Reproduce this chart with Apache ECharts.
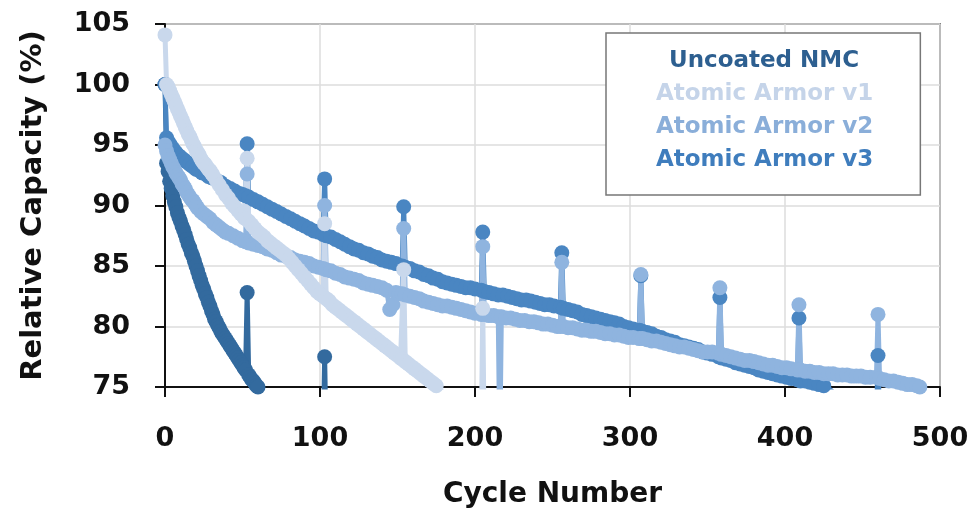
<!DOCTYPE html>
<html>
<head>
<meta charset="utf-8">
<title>Relative Capacity vs Cycle Number</title>
<script src="https://cdn.jsdelivr.net/npm/echarts@6/dist/echarts.min.js"></script>
<style>
  html, body { margin: 0; padding: 0; background: #fff; }
  #chart { width: 977px; height: 515px; }
</style>
</head>
<body>
<div id="chart"></div>
<script>
// [cycle, relative capacity %]; values below 75 fall outside the axis
const uncoatedNMC = [
  [0, 100], [1, 93.5], [2, 92.8], [3, 92.0], [4, 91.4], [5, 90.8], [6, 90.3], [7, 89.9], [8, 89.4],
  [9, 89.0], [10, 88.7], [11, 88.3], [12, 88.0], [13, 87.6], [14, 87.2], [15, 86.8], [16, 86.5],
  [17, 86.1], [18, 85.8], [19, 85.4], [20, 85.0], [21, 84.6], [22, 84.2], [23, 83.8], [24, 83.4],
  [25, 83.1], [26, 82.7], [27, 82.4], [28, 82.0], [29, 81.7], [30, 81.3], [31, 81.0], [32, 80.6],
  [33, 80.4], [34, 80.1], [35, 79.9], [36, 79.6], [37, 79.4], [38, 79.2], [39, 79.0], [40, 78.8],
  [41, 78.6], [42, 78.4], [43, 78.2], [44, 78.0], [45, 77.8], [46, 77.6], [47, 77.4], [48, 77.2],
  [49, 77.0], [50, 76.8], [51, 76.6], [52, 76.4], [53, 82.8], [54, 76.0], [55, 75.8], [56, 75.6],
  [57, 75.5], [58, 75.3], [59, 75.1], [60, 75.0], [62, 74.4], [80, 72],
  [102, 70], [103, 77.5], [104, 70]
];

const armorV1 = [
  [0, 104.1], [1, 100], [2, 99.8], [3, 99.5], [4, 99.2], [5, 98.9], [6, 98.6], [7, 98.3], [8, 98.0],
  [9, 97.7], [10, 97.4], [11, 97.1], [12, 96.8], [13, 96.5], [14, 96.2], [15, 95.9], [16, 95.7],
  [17, 95.4], [18, 95.1], [19, 94.9], [20, 94.6], [21, 94.4], [22, 94.2], [23, 93.9], [24, 93.7],
  [25, 93.5], [26, 93.4], [27, 93.2], [28, 93.0], [29, 92.9], [30, 92.7], [31, 92.5], [33, 92.1],
  [35, 91.7], [37, 91.3], [39, 90.9], [41, 90.6], [43, 90.2], [45, 89.9], [47, 89.6], [49, 89.3],
  [51, 89.0], [52, 88.9], [53, 93.9], [54, 88.7], [56, 88.4], [58, 88.1], [60, 87.8], [62, 87.6],
  [64, 87.4], [66, 87.1], [68, 86.9], [70, 86.7], [72, 86.5], [74, 86.3], [76, 86.1], [78, 85.9],
  [80, 85.6], [82, 85.3], [84, 85.0], [86, 84.7], [88, 84.4], [90, 84.1], [92, 83.8], [94, 83.5],
  [96, 83.2], [98, 82.9], [100, 82.7], [102, 82.5], [103, 88.5], [104, 82.3], [106, 82.1],
  [108, 81.8], [110, 81.6], [112, 81.4], [114, 81.2], [116, 81.0], [118, 80.8], [120, 80.6],
  [122, 80.4], [124, 80.2], [126, 80.0], [128, 79.8], [130, 79.6], [132, 79.4], [134, 79.2],
  [136, 79.0], [138, 78.8], [140, 78.6], [142, 78.4], [144, 78.2], [146, 78.0], [148, 77.8],
  [150, 77.6], [152, 77.4], [153, 77.3], [154, 84.7], [155, 77.1], [157, 76.9], [159, 76.7],
  [161, 76.5], [163, 76.3], [165, 76.1], [167, 75.9], [169, 75.7], [171, 75.5], [173, 75.3],
  [175, 75.1], [177, 74.9], [190, 73], [204, 70], [205, 81.5], [206, 70]
];

const armorV2 = [
  [0, 95.0], [1, 94.5], [2, 94.1], [3, 93.8], [4, 93.5], [5, 93.2], [6, 93.0], [7, 92.7], [8, 92.5],
  [9, 92.3], [10, 92.1], [11, 91.8], [12, 91.6], [13, 91.4], [14, 91.1], [15, 90.9], [16, 90.7],
  [17, 90.5], [18, 90.4], [19, 90.2], [20, 90.0], [21, 89.8], [23, 89.5], [25, 89.3], [27, 89.1],
  [29, 88.9], [31, 88.6], [33, 88.4], [35, 88.2], [37, 88.0], [39, 87.8], [41, 87.7], [44, 87.5],
  [47, 87.3], [50, 87.1], [52, 87.0], [53, 92.6], [54, 86.9], [57, 86.8], [60, 86.7], [63, 86.6],
  [66, 86.4], [69, 86.3], [72, 86.1], [75, 85.9], [78, 85.8], [81, 85.7], [84, 85.5], [87, 85.4],
  [90, 85.3], [93, 85.2], [96, 85.0], [99, 84.9], [102, 84.8], [103, 90.0], [104, 84.7],
  [107, 84.6], [110, 84.4], [113, 84.3], [116, 84.1], [119, 84.0], [122, 83.9], [125, 83.8],
  [128, 83.6], [131, 83.5], [134, 83.4], [137, 83.3], [140, 83.2], [143, 83.0], [145, 81.4],
  [147, 81.8], [149, 82.8], [151, 82.7], [153, 82.7], [154, 88.1], [155, 82.6], [158, 82.5],
  [161, 82.4], [164, 82.3], [167, 82.1], [170, 82.0], [173, 81.9], [176, 81.8], [179, 81.7],
  [182, 81.7], [185, 81.6], [188, 81.5], [191, 81.4], [194, 81.3], [197, 81.2], [200, 81.1],
  [204, 81.0], [205, 86.6], [206, 81.0], [209, 80.9], [212, 80.9], [215, 80.8], [216, 70],
  [217, 80.8], [220, 80.7], [223, 80.7], [226, 80.6], [229, 80.5], [232, 80.5], [235, 80.4],
  [238, 80.4], [241, 80.3], [244, 80.2], [247, 80.2], [250, 80.1], [253, 80.0], [255, 80.0],
  [256, 85.3], [257, 80.0], [260, 79.9], [263, 79.9], [266, 79.8], [269, 79.7], [272, 79.7],
  [275, 79.6], [278, 79.6], [281, 79.5], [284, 79.4], [287, 79.4], [290, 79.3], [293, 79.3],
  [296, 79.2], [299, 79.1], [302, 79.1], [306, 79.0], [307, 84.3], [308, 79.0], [311, 78.9],
  [314, 78.8], [317, 78.8], [320, 78.7], [323, 78.6], [326, 78.5], [329, 78.4], [332, 78.3],
  [335, 78.3], [338, 78.2], [341, 78.1], [344, 78.0], [347, 77.9], [350, 77.9], [353, 77.9],
  [357, 77.8], [358, 83.2], [359, 77.7], [362, 77.6], [365, 77.5], [368, 77.4], [371, 77.3],
  [374, 77.2], [377, 77.2], [380, 77.1], [383, 77.0], [386, 76.9], [389, 76.8], [392, 76.8],
  [395, 76.7], [398, 76.6], [401, 76.6], [404, 76.5], [408, 76.4], [409, 81.8], [410, 76.4],
  [413, 76.3], [416, 76.3], [419, 76.2], [422, 76.2], [425, 76.1], [428, 76.1], [431, 76.1],
  [434, 76.0], [437, 76.0], [440, 76.0], [443, 75.9], [446, 75.9], [449, 75.9], [452, 75.8],
  [455, 75.8], [459, 75.8], [460, 81.0], [461, 75.7], [464, 75.6], [467, 75.5], [470, 75.5],
  [473, 75.4], [476, 75.3], [479, 75.2], [482, 75.2], [485, 75.1], [487, 75.0]
];

const armorV3 = [
  [0, 100], [1, 95.6], [2, 95.3], [3, 95.1], [4, 94.9], [5, 94.7], [6, 94.5], [7, 94.4], [8, 94.2],
  [9, 94.1], [10, 94.0], [12, 93.8], [14, 93.6], [16, 93.4], [18, 93.2], [20, 93.0], [22, 92.9],
  [24, 92.7], [26, 92.6], [28, 92.4], [30, 92.3], [33, 92.1], [36, 91.9], [39, 91.6], [42, 91.4],
  [45, 91.2], [48, 91.0], [50, 90.9], [52, 90.8], [53, 95.1], [54, 90.7], [57, 90.5], [60, 90.3],
  [63, 90.1], [66, 89.9], [69, 89.7], [72, 89.5], [75, 89.3], [78, 89.1], [81, 88.9], [84, 88.7],
  [87, 88.5], [90, 88.3], [93, 88.1], [96, 87.9], [99, 87.8], [102, 87.6], [103, 92.2], [104, 87.5],
  [107, 87.4], [110, 87.2], [113, 87.0], [116, 86.8], [119, 86.6], [122, 86.4], [125, 86.3],
  [128, 86.1], [131, 86.0], [134, 85.8], [137, 85.7], [140, 85.5], [143, 85.4], [146, 85.3],
  [149, 85.2], [153, 85.0], [154, 89.9], [155, 84.9], [158, 84.8], [161, 84.6], [164, 84.5],
  [167, 84.3], [170, 84.2], [173, 84.0], [176, 83.9], [179, 83.7], [182, 83.6], [185, 83.5],
  [188, 83.4], [191, 83.3], [194, 83.2], [197, 83.2], [200, 83.1], [204, 83.0], [205, 87.8],
  [206, 82.9], [209, 82.8], [212, 82.7], [215, 82.6], [218, 82.6], [221, 82.5], [224, 82.4],
  [227, 82.3], [230, 82.2], [233, 82.2], [236, 82.1], [239, 82.0], [242, 81.9], [245, 81.8],
  [248, 81.8], [251, 81.7], [255, 81.6], [256, 86.1], [257, 81.5], [260, 81.4], [263, 81.3],
  [266, 81.2], [269, 81.0], [272, 80.9], [275, 80.8], [278, 80.7], [281, 80.6], [284, 80.5],
  [287, 80.4], [290, 80.3], [293, 80.2], [296, 80.0], [299, 79.9], [302, 79.8], [306, 79.7],
  [307, 84.2], [308, 79.6], [311, 79.5], [314, 79.4], [317, 79.2], [320, 79.1], [323, 78.9],
  [326, 78.8], [329, 78.7], [332, 78.5], [335, 78.4], [338, 78.3], [341, 78.2], [344, 78.1],
  [347, 77.9], [350, 77.8], [353, 77.7], [357, 77.5], [358, 82.4], [359, 77.4], [362, 77.3],
  [365, 77.2], [368, 77.0], [371, 76.9], [374, 76.8], [377, 76.7], [380, 76.6], [383, 76.4],
  [386, 76.3], [389, 76.2], [392, 76.1], [395, 76.0], [398, 75.9], [401, 75.8], [404, 75.7],
  [408, 75.6], [409, 80.7], [410, 75.5], [413, 75.5], [416, 75.4], [419, 75.3], [422, 75.2],
  [425, 75.1], [428, 74.9], [445, 73], [459, 72], [460, 77.6], [461, 72]
];

const seriesNames = ['Uncoated NMC', 'Atomic Armor v1', 'Atomic Armor v2', 'Atomic Armor v3'];
const seriesColors = ['#336a9e', '#c9d8ec', '#8fb4df', '#4a86c2'];
const legendColors = ['#2d5f90', '#c5d4e9', '#8aaed9', '#3f7dbd'];

const chart = echarts.init(document.getElementById('chart'), null, { renderer: 'canvas' });
const font = '"DejaVu Sans", sans-serif';

function makeSeries(name, data, color) {
  return {
    name: name,
    type: 'line',
    data: data,
    clip: true,
    showSymbol: true,
    symbol: 'circle',
    symbolSize: 15,
    itemStyle: { color: color },
    lineStyle: { color: color, width: 5 },
    emphasis: { disabled: true },
    animation: false
  };
}

chart.setOption({
  backgroundColor: '#fff',
  grid: {
    left: 165, right: 37, top: 24, bottom: 128,
    show: true, borderColor: '#222', borderWidth: 1.5
  },
  legend: {
    orient: 'vertical',
    left: 606, top: 33,
    padding: [17, 47, 23, 45],
    itemGap: 10,
    icon: 'rect',
    itemWidth: 0, itemHeight: 0,
    borderColor: '#777', borderWidth: 1.5,
    backgroundColor: '#fff',
    selectedMode: false,
    textStyle: { fontFamily: font, fontWeight: 'bold', fontSize: 23 },
    data: seriesNames.map((n, i) => ({
      name: n,
      textStyle: {
        color: legendColors[i],
        padding: i === 0 ? [0, 0, 0, 13] : 0
      }
    }))
  },
  xAxis: {
    type: 'value',
    min: 0, max: 500, interval: 100,
    name: 'Cycle Number',
    nameLocation: 'middle',
    nameGap: 94,
    nameTextStyle: { fontFamily: font, fontWeight: 'bold', fontSize: 28, color: '#111' },
    axisLine: { show: true, lineStyle: { color: '#111', width: 2 } },
    axisTick: { show: true, length: 10, lineStyle: { color: '#111', width: 2 } },
    axisLabel: { margin: 38, fontFamily: font, fontWeight: 'bold', fontSize: 27, color: '#111' },
    splitLine: { show: true, lineStyle: { color: '#dcdcdc', width: 1.5 } }
  },
  yAxis: {
    type: 'value',
    min: 75, max: 105, interval: 5,
    name: 'Relative Capacity (%)',
    nameLocation: 'middle',
    nameGap: 117,
    nameTextStyle: { fontFamily: font, fontWeight: 'bold', fontSize: 29, color: '#111' },
    axisLine: { show: true, lineStyle: { color: '#111', width: 2 } },
    axisTick: { show: true, length: 10, lineStyle: { color: '#111', width: 2 } },
    axisLabel: { margin: 35, fontFamily: font, fontWeight: 'bold', fontSize: 27, color: '#111' },
    splitLine: { show: true, lineStyle: { color: '#dcdcdc', width: 1.5 } }
  },
  series: [
    makeSeries(seriesNames[0], uncoatedNMC, seriesColors[0]),
    makeSeries(seriesNames[3], armorV3, seriesColors[3]),
    makeSeries(seriesNames[2], armorV2, seriesColors[2]),
    makeSeries(seriesNames[1], armorV1, seriesColors[1])
  ]
});
</script>
</body>
</html>
